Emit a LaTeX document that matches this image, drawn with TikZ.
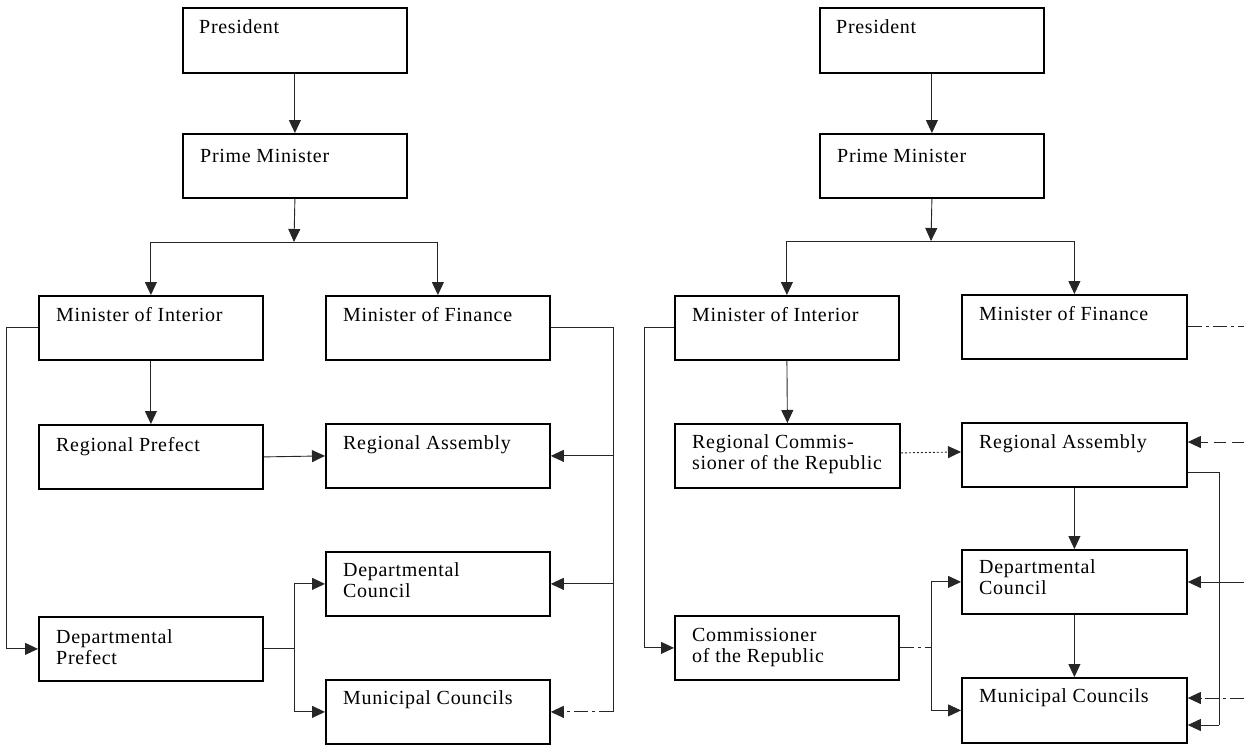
\documentclass[tikz,border=0pt]{standalone}
\usepackage{fontspec}
\setmainfont{Liberation Serif}[LetterSpace=3.5]
\usetikzlibrary{arrows.meta,calc}
\tikzset{
  orgbox/.style={draw=black, line width=1.8pt, rectangle, inner sep=0pt, anchor=north west},
  txt/.style={anchor=base west, inner sep=0pt, font=\fontsize{20pt}{21pt}\selectfont},
  conn/.style={draw=black!85, line width=0.9pt},
  arr/.style={conn, -{Triangle[length=13pt,width=12pt]}},
  dd/.style={dash pattern=on 14pt off 4pt on 3pt off 4pt},
  dsh/.style={dash pattern=on 12pt off 6pt},
  dot/.style={dash pattern=on 2pt off 2pt}
}
\newcommand{\twol}[2]{\parbox[t]{215pt}{#1\\#2}}
\begin{document}
\begin{tikzpicture}[x=1pt,y=-1pt]
\useasboundingbox (0,0) rectangle (1244,744);
% ---------------- left panel ----------------
\node[orgbox, minimum width=224pt, minimum height=65pt] (pres) at (182,7) {};
\node[orgbox, minimum width=224pt, minimum height=64pt] (pm) at (182,133) {};
\node[orgbox, minimum width=224pt, minimum height=64pt] (mi) at (38,295) {};
\node[orgbox, minimum width=224pt, minimum height=64pt] (mf) at (325,295) {};
\node[orgbox, minimum width=224pt, minimum height=64pt] (rp) at (38,424) {};
\node[orgbox, minimum width=224pt, minimum height=64pt] (ra) at (325,423) {};
\node[orgbox, minimum width=224pt, minimum height=64pt] (dc) at (325,551) {};
\node[orgbox, minimum width=224pt, minimum height=64pt] (dp) at (38,616) {};
\node[orgbox, minimum width=224pt, minimum height=64pt] (mc) at (325,679) {};

\node[txt] (t-pres) at ([shift={(17,26)}]pres.north west) {President};
\node[txt] (t-pm) at ([shift={(18,29)}]pm.north west) {Prime Minister};
\node[txt] (t-mi) at ([shift={(18,26)}]mi.north west) {Minister of Interior};
\node[txt] (t-mf) at ([shift={(18,26)}]mf.north west) {Minister of Finance};
\node[txt] (t-rp) at ([shift={(18,27)}]rp.north west) {Regional Prefect};
\node[txt] (t-ra) at ([shift={(18,26)}]ra.north west) {Regional Assembly};
\node[txt] (t-dc) at ([shift={(18,25)}]dc.north west) {\twol{Departmental}{Council}};
\node[txt] (t-dp) at ([shift={(18,27)}]dp.north west) {\twol{Departmental}{Prefect}};
\node[txt] (t-mc) at ([shift={(18,25)}]mc.north west) {Municipal Councils};

\coordinate (j) at (294,242);
\coordinate (lx) at (6,0);
\coordinate (rx) at (613,0);
\coordinate (dx) at (294,0);

\draw[arr] (pres.south) -- (pm.north);
\draw[arr] (pm.south) -- (j);
\draw[conn] (mi.north |- j) -- (mf.north |- j);
\draw[arr] (mi.north |- j) -- (mi.north);
\draw[arr] (mf.north |- j) -- (mf.north);
\draw[arr] (mi.south) -- (rp.north);
\draw[arr] (rp.east) -- (ra.west);
\draw[arr] (mi.west) -| (lx |- dp.west) -- (dp.west);
\draw[conn] (mf.east) -| (rx |- mc.east);
\draw[arr] (rx |- ra.east) -- (ra.east);
\draw[arr] (rx |- dc.east) -- (dc.east);
\draw[arr, dd] (rx |- mc.east) -- (mc.east);
\draw[conn] (dp.east) -- (dx |- dp.east);
\draw[conn] (dx |- dc.west) -- (dx |- mc.west);
\draw[arr] (dx |- dc.west) -- (dc.west);
\draw[arr] (dx |- mc.west) -- (mc.west);

% ---------------- right panel ----------------
\node[orgbox, minimum width=224pt, minimum height=65pt] (pres2) at (819,7) {};
\node[orgbox, minimum width=224pt, minimum height=64pt] (pm2) at (819,133) {};
\node[orgbox, minimum width=224pt, minimum height=64pt] (mi2) at (674,295) {};
\node[orgbox, minimum width=225pt, minimum height=64pt] (mf2) at (961,294) {};
\node[orgbox, minimum width=225pt, minimum height=64pt] (rc) at (674,423) {};
\node[orgbox, minimum width=225pt, minimum height=64pt] (ra2) at (961,422) {};
\node[orgbox, minimum width=225pt, minimum height=64pt] (dc2) at (961,549) {};
\node[orgbox, minimum width=224pt, minimum height=64pt] (cm) at (674,615) {};
\node[orgbox, minimum width=225pt, minimum height=65pt] (mc2) at (961,677) {};

\node[txt] (t-pres2) at ([shift={(17,26)}]pres2.north west) {President};
\node[txt] (t-pm2) at ([shift={(18,29)}]pm2.north west) {Prime Minister};
\node[txt] (t-mi2) at ([shift={(18,26)}]mi2.north west) {Minister of Interior};
\node[txt] (t-mf2) at ([shift={(18,26)}]mf2.north west) {Minister of Finance};
\node[txt] (t-rc) at ([shift={(18,25)}]rc.north west) {\twol{Regional Commis-}{sioner of the Republic}};
\node[txt] (t-ra2) at ([shift={(18,26)}]ra2.north west) {Regional Assembly};
\node[txt] (t-dc2) at ([shift={(18,24)}]dc2.north west) {\twol{Departmental}{Council}};
\node[txt] (t-cm) at ([shift={(18,26)}]cm.north west) {\twol{Commissioner}{of the Republic}};
\node[txt] (t-mc2) at ([shift={(18,25)}]mc2.north west) {Municipal Councils};

\coordinate (j2) at (931,241);
\coordinate (lx2) at (644,0);
\coordinate (rx2) at (1219,0);
\coordinate (cx2) at (931,0);
\coordinate (e1) at (1244,326);
\coordinate (e2) at (1244,442);
\coordinate (e3) at (1244,582);
\coordinate (e4) at (1244,698);

\draw[arr] (pres2.south) -- (pm2.north);
\draw[arr] (pm2.south) -- (j2);
\draw[conn] (mi2.north |- j2) -- (mf2.north |- j2);
\draw[arr] (mi2.north |- j2) -- (mi2.north);
\draw[arr] (mf2.north |- j2) -- (mf2.north);
\draw[arr] (mi2.south) -- (rc.north);
\draw[arr, dot] ([yshift=3pt]rc.east) -- ([yshift=3pt]ra2.west);
\draw[arr] (mi2.west) -| (lx2 |- cm.west) -- (cm.west);
\draw[conn, dd] (mf2.east |- e1) -- (e1);
\draw[arr, dsh] (e2) -- (e2 -| ra2.east);
\draw[arr] (e3) -- (e3 -| dc2.east);
\draw[arr, dd] (e4) -- (e4 -| mc2.east);
\draw[conn] ([yshift=-18pt]ra2.east) -| (rx2 |- 0,725);
\draw[arr] (rx2 |- 0,725) -- (mc2.east |- 0,725);
\draw[arr] (ra2.south) -- (dc2.north);
\draw[arr] (dc2.south) -- (mc2.north);
\draw[conn, dd] (cm.east) -- (cx2 |- cm.east);
\draw[conn] (cx2 |- dc2.west) -- (cx2 |- mc2.west);
\draw[arr] (cx2 |- dc2.west) -- (dc2.west);
\draw[arr] (cx2 |- mc2.west) -- (mc2.west);
\end{tikzpicture}
\end{document}
